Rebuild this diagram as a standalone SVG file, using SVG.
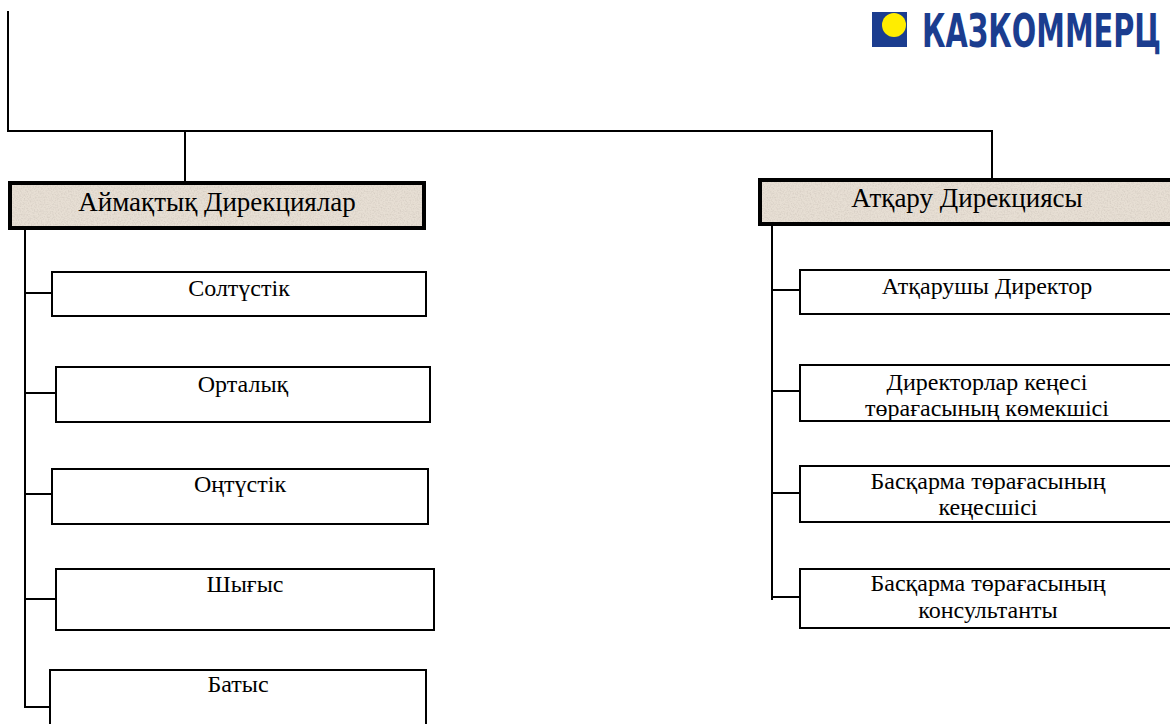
<svg xmlns="http://www.w3.org/2000/svg" width="1170" height="724" viewBox="0 0 1170 724">
<style>
.c{fill:none;stroke:#000;stroke-width:2}
.hf{fill:#e7dfd4}
.hs{fill:none;stroke:#000;stroke-width:4}
.bx{fill:#fff;stroke:#000;stroke-width:2}
.t{font-family:"Liberation Serif","Times New Roman",serif;font-size:24px;fill:#000;text-anchor:middle}
.th{font-family:"Liberation Serif","Times New Roman",serif;font-size:27px;fill:#000;text-anchor:middle}
</style>
<defs>
<filter id="paper" x="0" y="0" width="100%" height="100%">
<feTurbulence type="fractalNoise" baseFrequency="0.7" numOctaves="2" seed="3" result="n"/>
<feColorMatrix in="n" type="matrix" values="0 0 0 0 0.62  0 0 0 0 0.56  0 0 0 0 0.5  0 0 0 -1.4 0.85" result="s"/>
<feComposite in="s" in2="SourceGraphic" operator="in" result="s2"/>
<feMerge><feMergeNode in="SourceGraphic"/><feMergeNode in="s2"/></feMerge>
</filter>
</defs>
<rect width="1170" height="724" fill="#fff"/>
<g id="logo">
<rect x="872" y="12" width="35" height="35" fill="#1b3d8f"/>
<circle cx="894" cy="25" r="12" fill="#ffed00"/>
<text transform="translate(922,47) scale(0.696,1)" x="0" y="0" font-family="DejaVu Sans Condensed,DejaVu Sans,sans-serif" font-weight="bold" font-size="46" fill="#1b3d8f">КАЗКОММЕРЦ</text>
</g>
<g id="connectors">
<polyline class="c" points="8,11 8,131 992,131 992,179"/>
<line class="c" x1="185" y1="131" x2="185" y2="182"/>
<polyline class="c" points="25,229 25,707 50,707"/>
<line class="c" x1="25" y1="293" x2="52" y2="293"/>
<line class="c" x1="25" y1="393" x2="56" y2="393"/>
<line class="c" x1="25" y1="494" x2="52" y2="494"/>
<line class="c" x1="25" y1="599" x2="56" y2="599"/>
<line class="c" x1="772" y1="224" x2="772" y2="600"/>
<line class="c" x1="772" y1="290" x2="800" y2="290"/>
<line class="c" x1="772" y1="391" x2="800" y2="391"/>
<line class="c" x1="772" y1="493" x2="800" y2="493"/>
<line class="c" x1="772" y1="597" x2="800" y2="597"/>
</g>
<g id="regional">
<rect class="hf" x="10" y="183" width="414" height="45" filter="url(#paper)"/>
<rect class="hs" x="10" y="183" width="414" height="45"/>
<text class="th" x="217" y="211">Аймақтық Дирекциялар</text>
</g>
<g id="executive">
<rect class="hf" x="760" y="180" width="420" height="44" filter="url(#paper)"/>
<rect class="hs" x="760" y="180" width="420" height="44"/>
<text class="th" x="967" y="207">Атқару Дирекциясы</text>
</g>
<g id="soltustik">
<rect class="bx" x="52" y="272" width="374" height="44"/>
<text class="t" x="239" y="296">Солтүстік</text>
</g>
<g id="ortalyk">
<rect class="bx" x="56" y="367" width="374" height="55"/>
<text class="t" x="243" y="392">Орталық</text>
</g>
<g id="ontustik">
<rect class="bx" x="52" y="469" width="376" height="55"/>
<text class="t" x="240" y="492">Оңтүстік</text>
</g>
<g id="shygys">
<rect class="bx" x="56" y="569" width="378" height="61"/>
<text class="t" x="245" y="592">Шығыс</text>
</g>
<g id="batys">
<rect class="bx" x="50" y="670" width="376" height="70"/>
<text class="t" x="238" y="692">Батыс</text>
</g>
<g id="executive-director">
<rect class="bx" x="800" y="270" width="380" height="44"/>
<text class="t" x="987" y="294">Атқарушы Директор</text>
</g>
<g id="chair-assistant">
<rect class="bx" x="800" y="365" width="380" height="56"/>
<text class="t" x="987" y="390">Директорлар кеңесі</text>
<text class="t" x="987" y="416">төрағасының көмекшісі</text>
</g>
<g id="board-adviser">
<rect class="bx" x="800" y="466" width="380" height="56"/>
<text class="t" x="988" y="489">Басқарма төрағасының</text>
<text class="t" x="988" y="515">кеңесшісі</text>
</g>
<g id="board-consultant">
<rect class="bx" x="800" y="569" width="380" height="59"/>
<text class="t" x="988" y="591">Басқарма төрағасының</text>
<text class="t" x="988" y="618">консультанты</text>
</g>
</svg>
